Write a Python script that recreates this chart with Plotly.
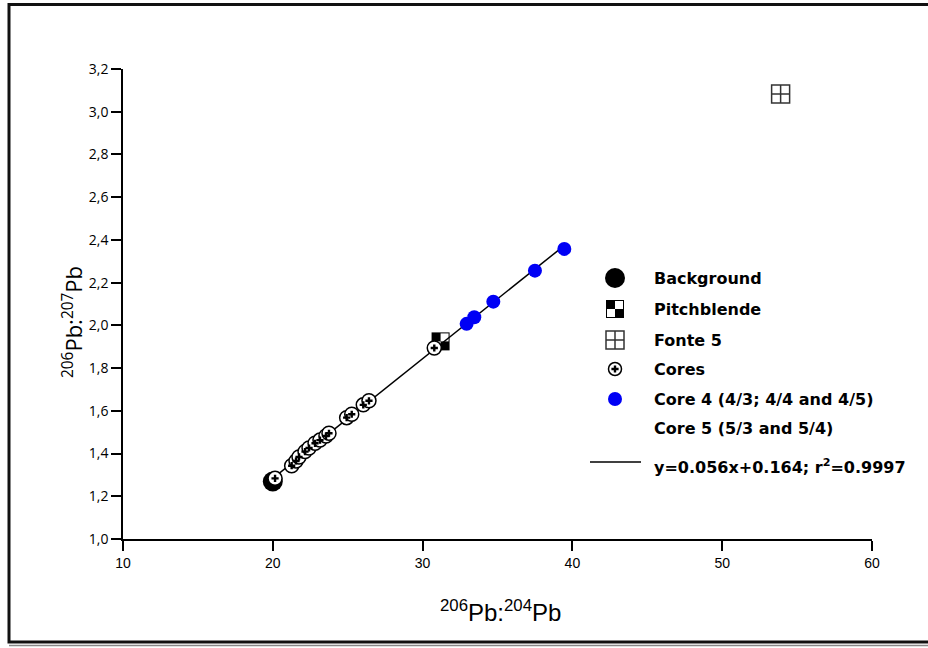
import plotly.graph_objects as go

# ---- data ----
bg_x = [20.0]
bg_y = [1.269]
pitch_x = [31.2]
pitch_y = [1.925]
fonte_x = [53.9]
fonte_y = [3.083]
cores_x = [20.15, 21.26, 21.55, 21.75, 22.15, 22.42, 22.82, 23.15, 23.55, 23.75,
           24.93, 25.27, 26.04, 26.42, 30.78]
cores_y = [1.284, 1.343, 1.365, 1.384, 1.409, 1.426, 1.448, 1.463, 1.482, 1.495,
           1.568, 1.584, 1.628, 1.647, 1.894]
core45_x = [32.94, 33.45, 34.72, 37.50, 39.46]
core45_y = [2.007, 2.038, 2.111, 2.256, 2.358]
fit_x = [20.0, 39.5]
fit_y = [1.284, 2.376]

x_ticks = [10, 20, 30, 40, 50, 60]
y_ticks = [1.0, 1.2, 1.4, 1.6, 1.8, 2.0, 2.2, 2.4, 2.6, 2.8, 3.0, 3.2]

legend_labels = ["Background", "Pitchblende", "Fonte 5", "Cores",
                 "Core 4 (4/3; 4/4 and 4/5)", "Core 5 (5/3 and 5/4)",
                 "y=0.056x+0.164; r<sup>2</sup>=0.9997"]

BLUE = "#0000f5"
fig = go.Figure()

# regression line
fig.add_trace(go.Scatter(x=fit_x, y=fit_y, mode="lines",
                         line=dict(color="black", width=1.5), hoverinfo="skip"))
# background
fig.add_trace(go.Scatter(x=bg_x, y=bg_y, mode="markers",
                         marker=dict(symbol="circle", size=20, color="black")))
# fonte 5
fig.add_trace(go.Scatter(x=fonte_x, y=fonte_y, mode="markers",
                         marker=dict(symbol="square-cross-open", size=18,
                                     line=dict(color="#333", width=1.5), color="#333")))
# cores
fig.add_trace(go.Scatter(x=cores_x, y=cores_y, mode="markers",
                         marker=dict(symbol="circle", size=14, color="white",
                                     line=dict(color="black", width=1.5))))
fig.add_trace(go.Scatter(x=cores_x, y=cores_y, mode="markers",
                         marker=dict(symbol="cross", size=6, color="black",
                                     line=dict(width=0))))
# core 4 / core 5
fig.add_trace(go.Scatter(x=core45_x, y=core45_y, mode="markers",
                         marker=dict(symbol="circle", size=14, color=BLUE)))

shapes = []
# pitchblende checker square (pixel-sized, anchored to data)
def checker(xref, yref, xa, ya, layer):
    s = []
    s.append(dict(type="rect", xref=xref, yref=yref, xsizemode="pixel", ysizemode="pixel",
                  xanchor=xa, yanchor=ya, x0=-9, x1=9, y0=-9, y1=9,
                  fillcolor="black", line=dict(width=0), layer=layer))
    s.append(dict(type="rect", xref=xref, yref=yref, xsizemode="pixel", ysizemode="pixel",
                  xanchor=xa, yanchor=ya, x0=0, x1=8, y0=0, y1=8,
                  fillcolor="white", line=dict(width=0), layer=layer))
    s.append(dict(type="rect", xref=xref, yref=yref, xsizemode="pixel", ysizemode="pixel",
                  xanchor=xa, yanchor=ya, x0=-8, x1=0, y0=-8, y1=0,
                  fillcolor="white", line=dict(width=0), layer=layer))
    return s

for px, py in zip(pitch_x, pitch_y):
    shapes += checker("x", "y", px, py, "below")

# ---- manual legend (positions in a pixel-like overlay axis) ----
L, R, T, B = 123, 872, 69, 539
W = R - L
H = B - T
def px2paper_x(p):
    return (p - L) / W
def px2paper_y(p):
    return (B - p) / H

leg_sym_x = 615
leg_text_x = 652
leg_rows_y = [278, 309, 340, 369, 399, 428, 466]

fig.add_trace(go.Scatter(x=[leg_sym_x], y=[leg_rows_y[0]], xaxis="x2", yaxis="y2", mode="markers",
                         marker=dict(symbol="circle", size=20, color="black")))
shapes += checker("x2", "y2", leg_sym_x, leg_rows_y[1], "above")
fig.add_trace(go.Scatter(x=[leg_sym_x], y=[leg_rows_y[2]], xaxis="x2", yaxis="y2", mode="markers",
                         marker=dict(symbol="square-cross-open", size=18, color="#333",
                                     line=dict(color="#333", width=1.5))))
fig.add_trace(go.Scatter(x=[leg_sym_x], y=[leg_rows_y[3]], xaxis="x2", yaxis="y2", mode="markers",
                         marker=dict(symbol="circle", size=13, color="white",
                                     line=dict(color="black", width=1.5))))
fig.add_trace(go.Scatter(x=[leg_sym_x], y=[leg_rows_y[3]], xaxis="x2", yaxis="y2", mode="markers",
                         marker=dict(symbol="cross", size=6, color="black", line=dict(width=0))))
fig.add_trace(go.Scatter(x=[leg_sym_x], y=[leg_rows_y[4]], xaxis="x2", yaxis="y2", mode="markers",
                         marker=dict(symbol="circle", size=14, color=BLUE)))
shapes.append(dict(type="line", xref="x2", yref="y2", x0=590, x1=641,
                   y0=leg_rows_y[6] - 4, y1=leg_rows_y[6] - 4,
                   line=dict(color="black", width=1.5)))

annotations = []
for lab, yy in zip(legend_labels, leg_rows_y):
    annotations.append(dict(x=leg_text_x, y=yy, xref="x2", yref="y2", text=lab,
                            showarrow=False, xanchor="left", yanchor="middle",
                            font=dict(family="DejaVu Sans", size=16, color="black", weight="bold")))

# axis titles (paper coordinates, outside the plot area)
annotations.append(dict(x=px2paper_x(501), y=px2paper_y(611), xref="paper", yref="paper",
                        text="<sup>206</sup>Pb:<sup>204</sup>Pb", showarrow=False,
                        xanchor="center", yanchor="middle",
                        font=dict(family="Liberation Sans Narrow, Arial Narrow, sans-serif", size=24, color="black")))
annotations.append(dict(x=px2paper_x(72), y=px2paper_y(322), xref="paper", yref="paper",
                        text="<sup>206</sup>Pb:<sup>207</sup>Pb", showarrow=False, textangle=-90,
                        xanchor="center", yanchor="middle",
                        font=dict(family="Open Sans", size=22, color="black")))

# outer frame
shapes.append(dict(type="rect", xref="paper", yref="paper",
                   x0=px2paper_x(9), x1=px2paper_x(940), y0=px2paper_y(642), y1=px2paper_y(4.5),
                   line=dict(color="#111", width=3), fillcolor="rgba(0,0,0,0)", layer="above"))
shapes.append(dict(type="line", xref="paper", yref="paper",
                   x0=px2paper_x(9), x1=px2paper_x(940), y0=px2paper_y(645.5), y1=px2paper_y(645.5),
                   line=dict(color="#888", width=1.5), layer="above"))

tick_font = dict(family="Liberation Sans Narrow, Arial Narrow, sans-serif", size=14, color="black")
fig.update_layout(
    width=928, height=648,
    margin=dict(l=L, r=928 - R, t=T, b=648 - B),
    paper_bgcolor="white", plot_bgcolor="white",
    showlegend=False,
    separators=",.",
    shapes=shapes,
    annotations=annotations,
    xaxis=dict(range=[10, 60], tickvals=x_ticks, ticks="outside", ticklen=10, tickwidth=1.5,
               showline=True, linecolor="black", linewidth=1.5, showgrid=False, zeroline=False,
               tickfont=tick_font, tickcolor="black"),
    yaxis=dict(range=[1.0, 3.2], tickvals=y_ticks, tickformat=".1f", ticks="outside", ticklen=10,
               tickwidth=1.5, showline=True, linecolor="black", linewidth=1.5, showgrid=False,
               zeroline=False, tickfont=dict(family="Open Sans", size=14, color="black"),
               tickcolor="black"),
    xaxis2=dict(range=[L, R], overlaying="x", visible=False, showgrid=False, zeroline=False),
    yaxis2=dict(range=[B, T], overlaying="y", visible=False, showgrid=False, zeroline=False),
)

fig.write_html("out.html")
